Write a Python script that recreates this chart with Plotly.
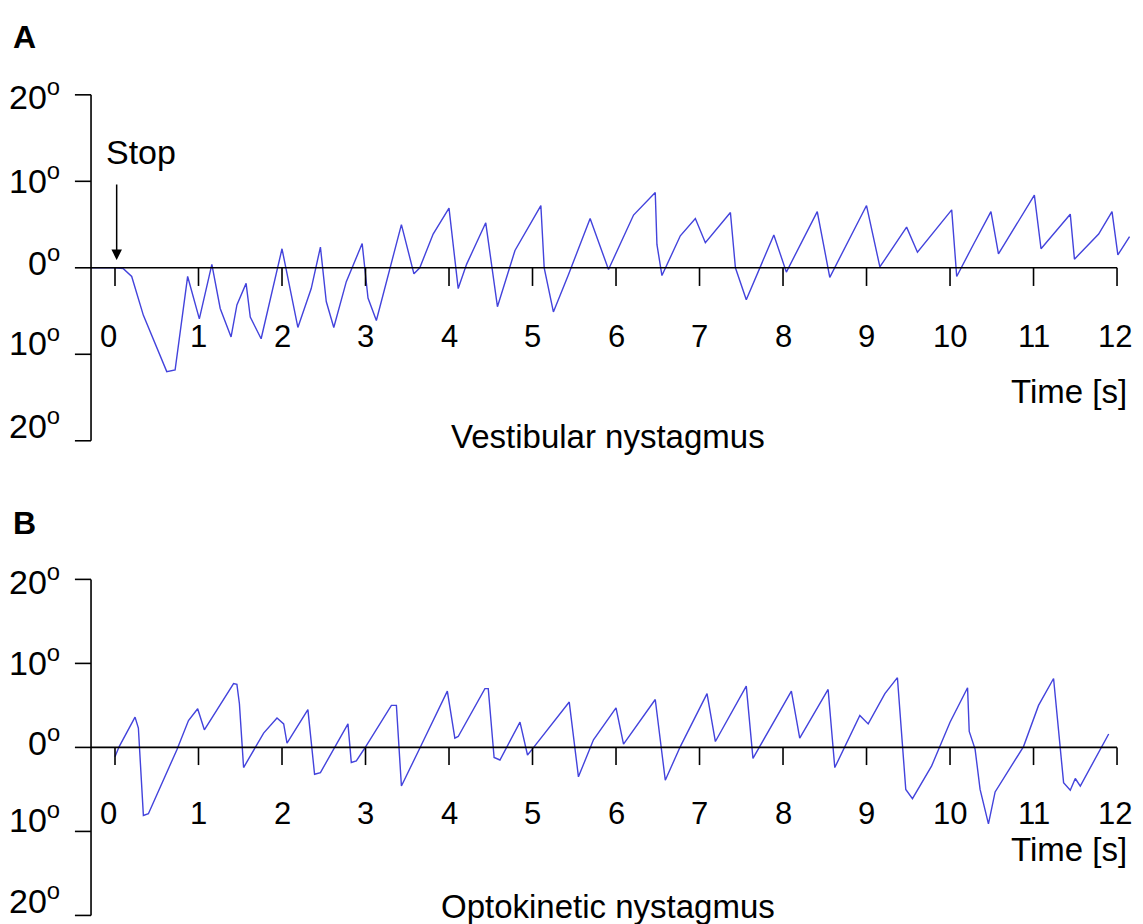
import plotly.graph_objects as go

# eye position traces, degrees vs time (s)
t_vest = [-0.28, 0.0, 0.1, 0.2, 0.34, 0.62, 0.72, 0.87, 1.01, 1.16, 1.26, 1.39, 1.46, 1.57, 1.62, 1.75,
          2.0, 2.19, 2.35, 2.46, 2.53, 2.62, 2.77, 2.96, 3.03, 3.13, 3.43, 3.58, 3.65, 3.81, 4.0, 4.11,
          4.21, 4.44, 4.58, 4.79, 5.1, 5.14, 5.25, 5.43, 5.69, 5.91, 6.21, 6.47, 6.49, 6.55, 6.77, 6.95,
          7.07, 7.37, 7.43, 7.56, 7.89, 8.04, 8.41, 8.56, 9.0, 9.16, 9.48, 9.61, 10.02, 10.08, 10.28,
          10.49, 10.58, 11.01, 11.09, 11.44, 11.49, 11.78, 11.94, 12.01, 12.15]
deg_vest = [0, 0, -0.1, -1.0, -5.5, -12.0, -11.8, -1.0, -5.9, 0.4, -4.7, -8.0, -4.3, -1.8, -5.7, -8.2,
            2.2, -6.9, -2.4, 2.4, -3.9, -6.9, -1.6, 2.8, -3.5, -6.1, 5.0, -0.7, 0.0, 3.9, 6.9, -2.4,
            0.4, 5.2, -4.5, 2.0, 7.2, 0.0, -5.1, -0.8, 5.7, -0.2, 6.1, 8.7, 2.7, -0.9, 3.7, 5.7,
            2.9, 6.4, 0.0, -3.7, 3.8, -0.5, 6.5, -1.1, 7.2, 0.1, 4.7, 1.8, 6.7, -1.0, 2.7,
            6.5, 1.6, 8.4, 2.2, 6.2, 1.0, 3.9, 6.5, 1.5, 3.6]

t_opto = [0.0, 0.05, 0.24, 0.28, 0.34, 0.40, 0.74, 0.88, 0.99, 1.07, 1.42, 1.46, 1.49, 1.54, 1.78, 1.94,
          2.02, 2.06, 2.31, 2.39, 2.46, 2.79, 2.83, 2.89, 2.99, 3.31, 3.37, 3.43, 3.65, 3.98, 4.07, 4.11,
          4.43, 4.47, 4.54, 4.61, 4.85, 4.94, 4.99, 5.44, 5.55, 5.73, 6.0, 6.09, 6.47, 6.59, 6.77, 7.09,
          7.19, 7.56, 7.64, 8.10, 8.20, 8.54, 8.62, 8.92, 9.02, 9.22, 9.37, 9.47, 9.55, 9.78, 10.0,
          10.21, 10.23, 10.30, 10.36, 10.46, 10.54, 10.88, 11.06, 11.24, 11.36, 11.44, 11.50, 11.56, 11.90]
deg_opto = [-1.1, 0.1, 3.6, 2.3, -8.1, -7.9, -0.3, 3.2, 4.6, 2.1, 7.6, 7.5, 5.2, -2.4, 1.7, 3.5,
            2.8, 0.5, 4.5, -3.2, -3.0, 2.8, -1.8, -1.6, -0.1, 5.0, 5.0, -4.6, -0.1, 6.7, 1.1, 1.3,
            7.0, 7.0, -1.2, -1.5, 3.0, -0.9, -0.3, 5.4, -3.5, 0.9, 4.7, 0.4, 5.7, -3.9, 0.1, 6.4,
            0.7, 7.3, -1.3, 6.7, 1.1, 6.9, -2.4, 3.8, 2.8, 6.4, 8.3, -5.0, -6.1, -2.2, 3.0,
            7.1, 1.9, -0.2, -5.0, -9.1, -5.3, 0.1, 5.0, 8.2, -4.2, -5.1, -3.7, -4.6, 1.6]

x_ticks = list(range(0, 13))
y_ticks = [20, 10, 0, -10, -20]
y_label_lift = [0, 3, 7, 14, 17]   # px, labels sit a little above their ticks

FONT = "Liberation Sans, Arial, sans-serif"
BLUE = "#4343dc"

# page body has an 8px margin, so the figure is 8px smaller than the window
W, H = 1135, 916
split = 454 / H

fig = go.Figure()
fig.add_trace(go.Scatter(x=t_vest, y=deg_vest, mode="lines", line=dict(color=BLUE, width=1.4),
                         xaxis="x", yaxis="y", showlegend=False))
fig.add_trace(go.Scatter(x=t_opto, y=deg_opto, mode="lines", line=dict(color=BLUE, width=1.4),
                         xaxis="x2", yaxis="y2", showlegend=False))

y_axis_x = -0.287
shapes, annotations = [], []
panels = [("x", "y", -8.0, -14.3, "Vestibular nystagmus", -19.5, "A", 26.7),
          ("x2", "y2", -7.9, -12.1, "Optokinetic nystagmus", -18.9, "B", 26.7)]
for xr, yr, xlab_y, time_y, name, name_y, letter, letter_y in panels:
    line = dict(color="black", width=1.6)
    shapes.append(dict(type="line", xref=xr, yref=yr, x0=y_axis_x, x1=y_axis_x, y0=-20, y1=20, line=line))
    shapes.append(dict(type="line", xref=xr, yref=yr, x0=y_axis_x, x1=12, y0=0, y1=0, line=line))
    for v, lift in zip(y_ticks, y_label_lift):
        shapes.append(dict(type="line", xref=xr, yref=yr, x0=-0.48, x1=y_axis_x, y0=v, y1=v, line=line))
        annotations.append(dict(xref=xr, yref=yr, x=-0.63, y=v, yshift=lift, text=f"{abs(v)}<sup>o</sup>",
                                showarrow=False, xanchor="right", yanchor="middle",
                                font=dict(family=FONT, size=34, color="black")))
    for v in x_ticks:
        shapes.append(dict(type="line", xref=xr, yref=yr, x0=v, x1=v, y0=0, y1=-2.1, line=line))
        annotations.append(dict(xref=xr, yref=yr, x=v, y=xlab_y, text=str(v), showarrow=False,
                                xshift=-7 if v == 0 else (-2 if v == 12 else 0),
                                font=dict(family=FONT, size=31, color="black")))
    annotations.append(dict(xref=xr, yref=yr, x=11.42, y=time_y, text="Time [s]", showarrow=False,
                            font=dict(family=FONT, size=33, color="black")))
    annotations.append(dict(xref=xr, yref=yr, x=5.9, y=name_y, text=name, showarrow=False,
                            font=dict(family=FONT, size=33, color="black")))
    annotations.append(dict(xref=xr, yref=yr, x=-1.25, y=letter_y, text=f"<b>{letter}</b>", showarrow=False,
                            xanchor="left", font=dict(family=FONT, size=32, color="black")))

# stop marker in panel A
annotations.append(dict(xref="x", yref="y", x=0.31, y=13.4, text="Stop", showarrow=False,
                        font=dict(family=FONT, size=34, color="black")))
annotations.append(dict(xref="x", yref="y", x=0.02, y=0.9, text="", showarrow=True, ax=0, ay=-77,
                        arrowhead=2, arrowsize=1.4, arrowwidth=1.5, arrowcolor="black"))

fig.update_layout(
    width=W, height=H,
    margin=dict(l=0, r=0, t=0, b=0),
    paper_bgcolor="white", plot_bgcolor="white",
    xaxis=dict(domain=[0, 1], range=[-1.2814, 12.311], visible=False, anchor="y"),
    yaxis=dict(domain=[split, 1], range=[-23.38, 30.04], visible=False, anchor="x"),
    xaxis2=dict(domain=[0, 1], range=[-1.2814, 12.311], visible=False, anchor="y2"),
    yaxis2=dict(domain=[0, split], range=[-21.02, 33.02], visible=False, anchor="x2"),
    shapes=shapes,
    annotations=annotations,
)

fig.write_html("out.html")
